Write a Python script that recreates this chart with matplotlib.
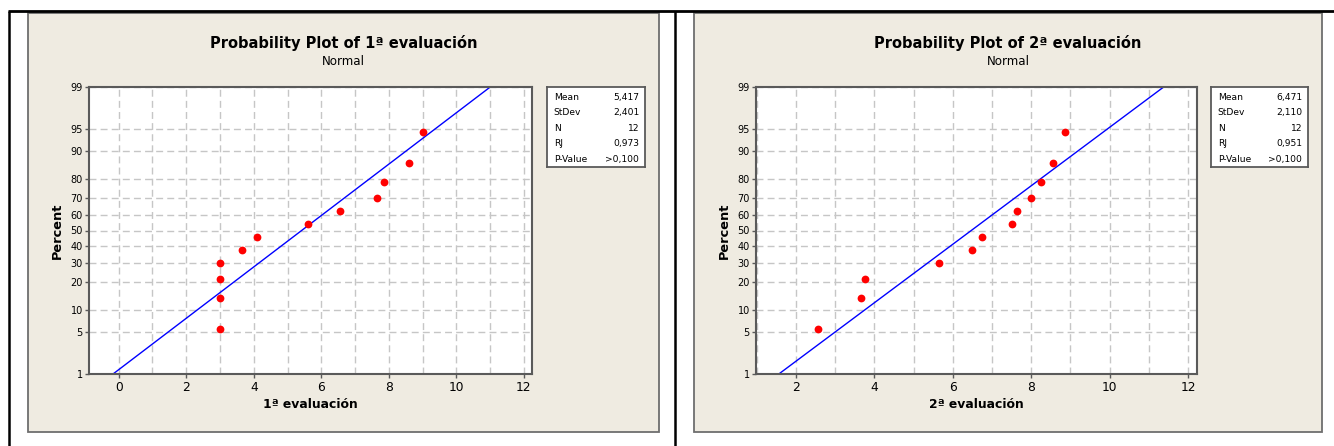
"""Minitab-style normal probability plots of the two evaluations"""

from statistics import NormalDist

import matplotlib
matplotlib.use("Agg")
from matplotlib import pyplot as plt
from matplotlib.lines import Line2D
from matplotlib.patches import Rectangle

# Values
eval1 = [3.0, 3.0, 3.0, 3.0, 3.65, 4.1, 5.6, 6.55, 7.65, 7.85, 8.6, 9.0]
eval2 = [2.55, 3.65, 3.75, 5.65, 6.5, 6.75, 7.5, 7.65, 8.0, 8.25, 8.55, 8.85]
percent = [5.6, 13.7, 21.8, 29.8, 37.9, 46.0, 54.0, 62.1, 70.2, 78.2, 86.3, 94.4]

titles = ["Probability Plot of 1ª evaluación", "Probability Plot of 2ª evaluación"]
xlabels = ["1ª evaluación", "2ª evaluación"]
means = [5.417, 6.471]
stdevs = [2.401, 2.110]
stat_names = ["Mean", "StDev", "N", "RJ", "P-Value"]
stat_values = [["5,417", "2,401", "12", "0,973", ">0,100"],
               ["6,471", "2,110", "12", "0,951", ">0,100"]]

pct_ticks = [1, 5, 10, 20, 30, 40, 50, 60, 70, 80, 90, 95, 99]
xticks = [[0, 2, 4, 6, 8, 10, 12], [2, 4, 6, 8, 10, 12]]
xgrid = [list(range(0, 13)), list(range(1, 13))]
xlims = [(-0.88, 12.24), (0.98, 12.23)]

BEIGE = "#EFEBE1"
FRAME = "#5A5A5A"
W, H = 1334, 446


def z(p):
    """Percent -> standard normal quantile (probability paper y-axis)"""
    return NormalDist().inv_cdf(p / 100.0)


def fx(px):
    return px / W


def fy(py):
    return 1 - py / H


fig = plt.figure(figsize=(W / 100, H / 100), dpi=100)
plt.rcParams["font.family"] = ["DejaVu Sans"]

# table lines around the two pictures
fig.add_artist(Line2D([fx(7.5), 1], [fy(11), fy(11)], color="black", lw=2,
                      solid_capstyle="butt"))
fig.add_artist(Line2D([fx(8.5), fx(8.5)], [fy(11), 0], color="black", lw=1.8,
                      solid_capstyle="butt"))
fig.add_artist(Line2D([fx(674.5), fx(674.5)], [fy(11), 0], color="black", lw=1.8,
                      solid_capstyle="butt"))

panels = [(28, 659), (694, 1322)]
axes_px = [(89, 532), (756, 1197)]
legend_px = [(547, 645), (1211, 1308)]
datasets = [eval1, eval2]
top, bottom = 87, 374

for i in range(2):
    p0, p1 = panels[i]
    fig.add_artist(Rectangle((fx(p0), fy(432)), fx(p1 - p0), (432 - 12.5) / H,
                             facecolor=BEIGE, edgecolor="#6E6E6E", lw=1.3,
                             zorder=-10))
    cx = fx((p0 + p1) / 2)
    fig.text(cx, fy(43), titles[i], ha="center", va="center",
             fontsize=10.5, fontweight="bold")
    fig.text(cx, fy(61.5), "Normal", ha="center", va="center", fontsize=8.6)

    a0, a1 = axes_px[i]
    ax = fig.add_axes([fx(a0), fy(bottom), fx(a1 - a0), (bottom - top) / H])
    ax.set_facecolor("white")

    zlo, zhi = z(pct_ticks[0]), z(pct_ticks[-1])
    ax.set_ylim(zlo, zhi)
    ax.set_xlim(*xlims[i])
    ax.set_yticks([z(p) for p in pct_ticks])
    ax.set_yticklabels([str(p) for p in pct_ticks])
    ax.set_xticks(xticks[i])
    ax.set_xticks([g for g in xgrid[i] if g not in xticks[i]], minor=True)

    ax.grid(True, which="both", color="#C6C6C6", linestyle=(0, (5, 3)), lw=1)
    ax.set_axisbelow(True)

    # fitted normal line from the reported mean / stdev
    m, s = means[i], stdevs[i]
    ax.plot([m + s * zlo, m + s * zhi], [zlo, zhi], color="#0000FF", lw=1)
    ax.plot(datasets[i], [z(p) for p in percent], "o", color="#FF0000",
            ms=5.6, mec="none", zorder=3)

    for sp in ax.spines.values():
        sp.set_color(FRAME)
        sp.set_linewidth(1.5)
    ax.tick_params(axis="y", labelsize=7, length=3, width=1, color=FRAME, pad=1.5)
    ax.tick_params(axis="x", which="major", labelsize=8.8, length=3, width=1,
                   color=FRAME, pad=2)
    ax.tick_params(axis="x", which="minor", length=0)
    ax.set_xlabel(xlabels[i], fontsize=8.9, fontweight="bold", labelpad=3)
    ax.set_ylabel("Percent", fontsize=9.3, fontweight="bold", labelpad=5)

    # stats box
    l0, l1 = legend_px[i]
    lax = fig.add_axes([fx(l0), fy(167), fx(l1 - l0), 80 / H])
    lax.set_xticks([])
    lax.set_yticks([])
    lax.set_facecolor("white")
    for sp in lax.spines.values():
        sp.set_color(FRAME)
        sp.set_linewidth(1.3)
    for k, (name, val) in enumerate(zip(stat_names, stat_values[i])):
        yy = 1 - (0.125 + k * 0.194)
        lax.text(0.07, yy, name, ha="left", va="center", fontsize=6.6,
                 transform=lax.transAxes)
        lax.text(0.94, yy, val, ha="right", va="center", fontsize=6.6,
                 transform=lax.transAxes)

fig.savefig("out.png", dpi=100)
